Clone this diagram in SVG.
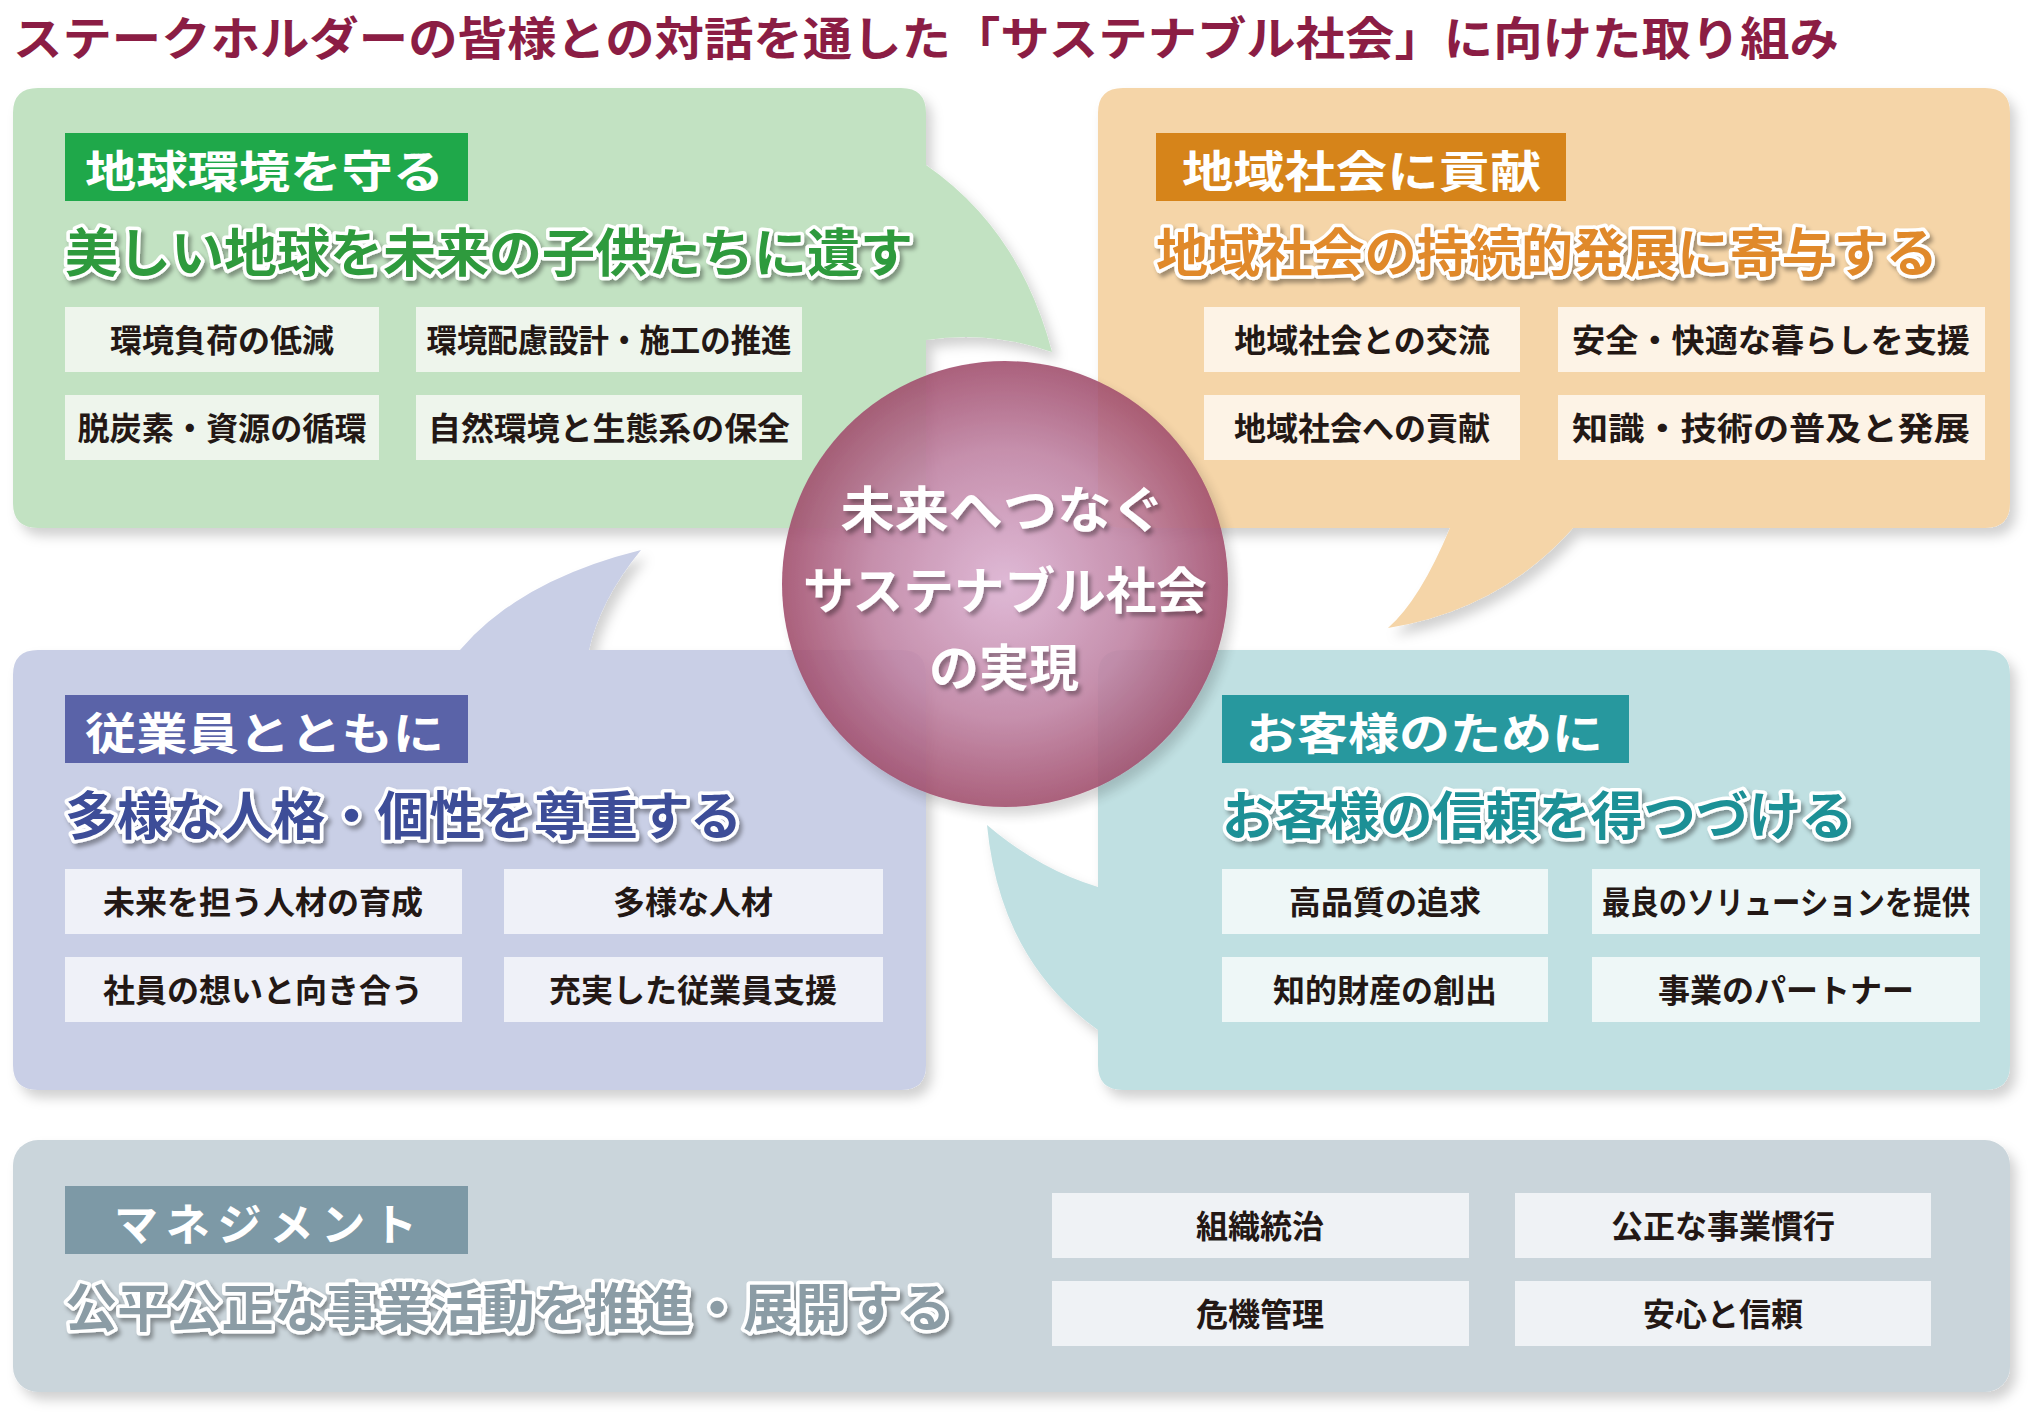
<svg xmlns="http://www.w3.org/2000/svg" width="2031" height="1417" viewBox="0 0 2031 1417">
<defs>
<filter id="sh" x="-5%" y="-5%" width="112%" height="115%"><feDropShadow dx="6" dy="8" stdDeviation="6" flood-color="#000" flood-opacity="0.18"/></filter>
<filter id="ts" x="-5%" y="-20%" width="110%" height="150%"><feDropShadow dx="3" dy="4" stdDeviation="2" flood-color="#000" flood-opacity="0.35"/></filter>
<radialGradient id="cg" cx="0.5" cy="0.5" r="0.5"><stop offset="0" stop-color="#dcb2d2"/><stop offset="0.6" stop-color="#c084a4"/><stop offset="1" stop-color="#a2506e"/></radialGradient>
</defs>
<style>
text{font-family:"Noto Sans CJK JP","Noto Sans",sans-serif;font-weight:700}
.lab{fill:#fff;font-size:44px}
.sub{font-size:52px;stroke:#fff;stroke-width:7;paint-order:stroke;stroke-linejoin:round}
.it{font-size:32px;fill:#231815;text-anchor:middle}
.ctr{fill:#fff;font-size:50px;text-anchor:middle}
</style>
<rect width="2031" height="1417" fill="#fff"/>
<text x="13" y="55" font-size="46" fill="#8b1d44" textLength="1826" lengthAdjust="spacingAndGlyphs">ステークホルダーの皆様との対話を通した「サステナブル社会」に向けた取り組み</text>

<g id="environment">
<path filter="url(#sh)" fill="#c2e2c2" d="M38,88 H901 Q926,88 926,113 V165 Q1020,230 1052,352 Q990,330 926,340 V503 Q926,528 901,528 H38 Q13,528 13,503 V113 Q13,88 38,88 Z"/>
<rect x="65" y="133" width="403" height="68" fill="#1fa84a"/>
<text class="lab" x="85" y="188" textLength="359" lengthAdjust="spacingAndGlyphs">地球環境を守る</text>
<text class="sub" x="65" y="272" fill="#2f9a3c" filter="url(#ts)" textLength="848" lengthAdjust="spacingAndGlyphs">美しい地球を未来の子供たちに遺す</text>
<g fill="#eef5ec"><rect x="65" y="307" width="314" height="65"/><rect x="416" y="307" width="386" height="65"/><rect x="65" y="395" width="314" height="65"/><rect x="416" y="395" width="386" height="65"/></g>
<text class="it" x="222" y="352">環境負荷の低減</text>
<text class="it" x="609" y="352" textLength="365" lengthAdjust="spacingAndGlyphs">環境配慮設計・施工の推進</text>
<text class="it" x="222" y="440" textLength="289" lengthAdjust="spacingAndGlyphs">脱炭素・資源の循環</text>
<text class="it" x="609" y="440" textLength="362" lengthAdjust="spacingAndGlyphs">自然環境と生態系の保全</text>
</g>

<g id="community">
<path filter="url(#sh)" fill="#f5d5a8" d="M1123,88 H1985 Q2010,88 2010,113 V503 Q2010,528 1985,528 H1573 Q1500,610 1388,628 Q1420,600 1450,528 H1123 Q1098,528 1098,503 V113 Q1098,88 1123,88 Z"/>
<rect x="1156" y="133" width="410" height="68" fill="#d6841a"/>
<text class="lab" x="1182" y="188" textLength="359" lengthAdjust="spacingAndGlyphs">地域社会に貢献</text>
<text class="sub" x="1156" y="272" fill="#e0892c" filter="url(#ts)" textLength="782" lengthAdjust="spacingAndGlyphs">地域社会の持続的発展に寄与する</text>
<g fill="#fdf3e6"><rect x="1204" y="307" width="316" height="65"/><rect x="1558" y="307" width="427" height="65"/><rect x="1204" y="395" width="316" height="65"/><rect x="1558" y="395" width="427" height="65"/></g>
<text class="it" x="1362" y="352">地域社会との交流</text>
<text class="it" x="1771" y="352" textLength="398" lengthAdjust="spacingAndGlyphs">安全・快適な暮らしを支援</text>
<text class="it" x="1362" y="440">地域社会への貢献</text>
<text class="it" x="1771" y="440" textLength="398" lengthAdjust="spacingAndGlyphs">知識・技術の普及と発展</text>
</g>

<g id="employees">
<path filter="url(#sh)" fill="#c9cfe6" d="M38,650 H460 Q520,580 641,550 Q600,600 589,650 H901 Q926,650 926,675 V1065 Q926,1090 901,1090 H38 Q13,1090 13,1065 V675 Q13,650 38,650 Z"/>
<rect x="65" y="695" width="403" height="68" fill="#5a63a8"/>
<text class="lab" x="85" y="750" textLength="359" lengthAdjust="spacingAndGlyphs">従業員とともに</text>
<text class="sub" x="65" y="835" fill="#3c4d98" filter="url(#ts)" textLength="677" lengthAdjust="spacingAndGlyphs">多様な人格・個性を尊重する</text>
<g fill="#eff1f8"><rect x="65" y="869" width="397" height="65"/><rect x="504" y="869" width="379" height="65"/><rect x="65" y="957" width="397" height="65"/><rect x="504" y="957" width="379" height="65"/></g>
<text class="it" x="263" y="914">未来を担う人材の育成</text>
<text class="it" x="693" y="914">多様な人材</text>
<text class="it" x="263" y="1002">社員の想いと向き合う</text>
<text class="it" x="693" y="1002">充実した従業員支援</text>
</g>

<g id="customers">
<path filter="url(#sh)" fill="#c0e0e2" d="M1123,650 H1985 Q2010,650 2010,675 V1065 Q2010,1090 1985,1090 H1123 Q1098,1090 1098,1065 V1030 Q1000,960 987,825 Q1040,870 1098,887 V675 Q1098,650 1123,650 Z"/>
<rect x="1222" y="695" width="407" height="68" fill="#27989e"/>
<text class="lab" x="1246" y="750" textLength="357" lengthAdjust="spacingAndGlyphs">お客様のために</text>
<text class="sub" x="1222" y="835" fill="#1e9096" filter="url(#ts)" textLength="632" lengthAdjust="spacingAndGlyphs">お客様の信頼を得つづける</text>
<g fill="#eef7f7"><rect x="1222" y="869" width="326" height="65"/><rect x="1592" y="869" width="388" height="65"/><rect x="1222" y="957" width="326" height="65"/><rect x="1592" y="957" width="388" height="65"/></g>
<text class="it" x="1385" y="914">高品質の追求</text>
<text class="it" x="1786" y="914" textLength="368" lengthAdjust="spacingAndGlyphs">最良のソリューションを提供</text>
<text class="it" x="1385" y="1002">知的財産の創出</text>
<text class="it" x="1786" y="1002">事業のパートナー</text>
</g>

<g id="management">
<rect filter="url(#sh)" x="13" y="1140" width="1997" height="252" rx="25" fill="#cad5db"/>
<rect x="65" y="1186" width="403" height="68" fill="#7d99a6"/>
<text class="lab" x="114" y="1241" textLength="303" lengthAdjust="spacing">マネジメント</text>
<text class="sub" x="65" y="1327" fill="#8b9ca5" filter="url(#ts)" textLength="887" lengthAdjust="spacingAndGlyphs">公平公正な事業活動を推進・展開する</text>
<g fill="#eff2f5"><rect x="1052" y="1193" width="417" height="65"/><rect x="1515" y="1193" width="416" height="65"/><rect x="1052" y="1281" width="417" height="65"/><rect x="1515" y="1281" width="416" height="65"/></g>
<text class="it" x="1260" y="1238">組織統治</text>
<text class="it" x="1723" y="1238">公正な事業慣行</text>
<text class="it" x="1260" y="1326">危機管理</text>
<text class="it" x="1723" y="1326">安心と信頼</text>
</g>

<g id="center">
<circle cx="1005" cy="584" r="223" fill="url(#cg)" opacity="0.9" filter="url(#sh)"/>
<g filter="url(#ts)">
<text class="ctr" x="1003" y="528" textLength="325" lengthAdjust="spacingAndGlyphs">未来へつなぐ</text>
<text class="ctr" x="1005" y="609" textLength="404" lengthAdjust="spacingAndGlyphs">サステナブル社会</text>
<text class="ctr" x="1004" y="686">の実現</text>
</g>
</g>
<g id="connectors"/>
</svg>
